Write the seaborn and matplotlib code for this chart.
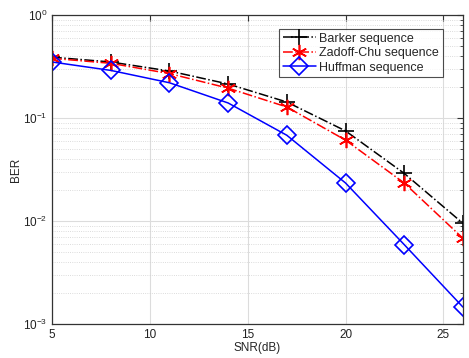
import numpy as np
import pandas as pd
import matplotlib
matplotlib.use('Agg')
import matplotlib.pyplot as plt
from matplotlib.ticker import LogLocator, FixedLocator, NullFormatter
import seaborn as sns

# --- datos ---
snr = [5, 8, 11, 14, 17, 20, 23, 26]
ber_barker = [0.39, 0.35, 0.286, 0.214, 0.143, 0.075, 0.029, 0.0095]
ber_zc = [0.38, 0.34, 0.27, 0.195, 0.128, 0.061, 0.0234, 0.0068]
ber_huffman = [0.35, 0.29, 0.22, 0.14, 0.068, 0.0234, 0.0059, 0.00146]
labels = ['Barker sequence', 'Zadoff-Chu sequence', 'Huffman sequence']
x_ticks = [5, 10, 15, 20, 25]

sns.set_style('white')
plt.rcParams['font.family'] = ['Liberation Sans', 'DejaVu Sans']

fig = plt.figure(figsize=(4.69, 3.58), dpi=100)
ax = fig.add_axes([0.111, 0.095, 0.876, 0.863])

estilos = [
    dict(color='black', linestyle='-.', marker='+', markersize=11, markeredgewidth=1.2,
         markeredgecolor='black'),
    dict(color='red', linestyle='-.', marker=(6, 2, 0), markersize=11, markeredgewidth=1.2,
         markeredgecolor='red'),
    dict(color='blue', linestyle='-', marker='D', markersize=9, markeredgewidth=1.2,
         markerfacecolor='none', markeredgecolor='blue'),
]
for serie, lab, st in zip([ber_barker, ber_zc, ber_huffman], labels, estilos):
    sns.lineplot(x=snr, y=serie, ax=ax, label=lab, linewidth=1.1, **st)

ax.set_yscale('log')
ax.set_xlim(5, 26)
ax.set_ylim(1e-3, 1)
ax.xaxis.set_major_locator(FixedLocator(x_ticks))
ax.yaxis.set_major_locator(LogLocator(base=10, numticks=10))
ax.yaxis.set_minor_locator(LogLocator(base=10, subs=np.arange(2, 10), numticks=10))
ax.yaxis.set_minor_formatter(NullFormatter())

ax.grid(True, which='major', color='#dcdcdc', linewidth=0.8, linestyle='-')
ax.grid(True, which='minor', axis='y', color='#d0d0d0', linewidth=0.6, linestyle=':')
ax.set_axisbelow(True)

for s in ax.spines.values():
    s.set_color('#333333')
    s.set_linewidth(0.9)
ax.tick_params(which='both', direction='in', top=True, right=True, colors='#333333',
               labelsize=8.5, labelcolor='#222222')
ax.tick_params(which='major', length=4)
ax.tick_params(which='minor', length=2)

ax.set_xlabel('SNR(dB)', fontsize=8.5, labelpad=1)
ax.set_ylabel('BER', fontsize=8.5, labelpad=1)

leg = ax.legend(loc='upper right', bbox_to_anchor=(0.951, 0.955), fontsize=9,
                frameon=True, fancybox=False, handlelength=2.6, borderpad=0.3,
                labelspacing=0.2, handletextpad=0.3, borderaxespad=0)
leg.get_frame().set_edgecolor('#222222')
leg.get_frame().set_linewidth(0.8)

fig.savefig('out.png', dpi=100)
